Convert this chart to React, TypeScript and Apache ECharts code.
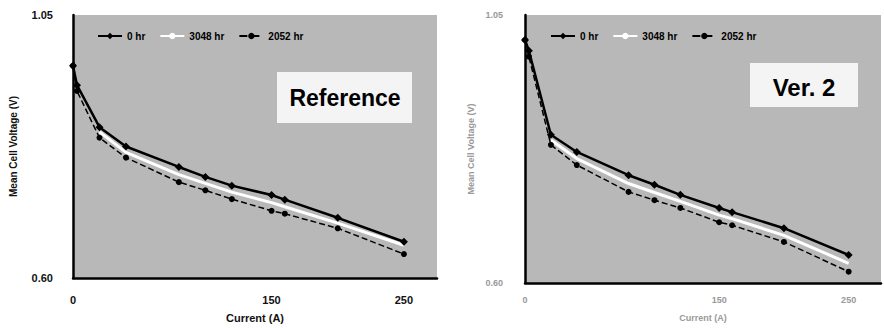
import React, { useEffect, useRef } from "react";
import * as echarts from "echarts";

// Currents (A)
const currents = [0, 3, 20, 40, 80, 100, 120, 150, 160, 200, 250];

// Left panel ("Reference")
const refHr0 = [0.963, 0.93, 0.858, 0.825, 0.79, 0.773, 0.758, 0.742, 0.734, 0.703, 0.662];
const refHr3048 = [null, null, 0.85, 0.815, 0.777, 0.762, 0.747, 0.729, 0.722, 0.694, 0.656];
const refHr2052 = [0.963, 0.92, 0.84, 0.806, 0.764, 0.75, 0.735, 0.715, 0.71, 0.685, 0.641];

// Right panel ("Ver. 2")
const v2Hr0 = [1.008, 0.99, 0.849, 0.82, 0.781, 0.765, 0.748, 0.726, 0.719, 0.692, 0.647];
const v2Hr3048 = [null, null, 0.84, 0.809, 0.767, 0.752, 0.737, 0.714, 0.708, 0.68, 0.633];
const v2Hr2052 = [1.008, 0.98, 0.832, 0.798, 0.753, 0.739, 0.726, 0.702, 0.697, 0.669, 0.619];

const seriesNames = ["0 hr", "3048 hr", "2052 hr"];
const xTickLabels = [0, 150, 250];
const yTickLabels = [0.6, 1.05];

const pairs = (vals: (number | null)[]) =>
  currents.map((c, i) => (vals[i] == null ? [c, null] : [c, vals[i]])).filter((p) => p[1] != null);

const FONT = "Liberation Sans, Arial, sans-serif";

export default function App() {
  const ref = useRef<HTMLDivElement>(null);
  useEffect(() => {
    if (!ref.current) return;
    const chart = echarts.init(ref.current, undefined, { renderer: "svg" });

    const makeX = (gi: number, faint: boolean) => ({
      type: "value",
      gridIndex: gi,
      min: 0,
      max: 275,
      interval: 25,
      name: "Current (A)",
      nameLocation: "middle",
      nameGap: faint ? 30 : 34,
      nameTextStyle: {
        fontFamily: FONT,
        fontWeight: "bold",
        fontSize: faint ? 9 : 11,
        color: faint ? "#999" : "#111",
      },
      axisLine: { show: true, lineStyle: { color: "#000", width: 2.5 } },
      axisTick: { show: false },
      splitLine: { show: false },
      axisLabel: {
        margin: faint ? 12 : 16,
        fontFamily: FONT,
        fontWeight: "bold",
        fontSize: faint ? 9 : 11,
        color: faint ? "#999" : "#111",
        formatter: (v: number) => (xTickLabels.some((t) => Math.abs(t - v) < 1e-6) ? String(v) : ""),
      },
    });

    const makeY = (gi: number, faint: boolean) => ({
      type: "value",
      gridIndex: gi,
      min: 0.6,
      max: 1.05,
      interval: 0.05,
      name: "Mean Cell Voltage (V)",
      nameLocation: "middle",
      nameGap: faint ? 50 : 55,
      nameRotate: 90,
      nameTextStyle: {
        fontFamily: FONT,
        fontWeight: "bold",
        fontSize: faint ? 9 : 10,
        color: faint ? "#999" : "#111",
      },
      axisLine: { show: true, lineStyle: { color: "#000", width: 2.5 } },
      axisTick: { show: false },
      splitLine: { show: false },
      axisLabel: {
        margin: faint ? 22 : 20,
        fontFamily: FONT,
        fontWeight: "bold",
        fontSize: faint ? 9 : 11,
        color: faint ? "#999" : "#111",
        formatter: (v: number) =>
          yTickLabels.some((t) => Math.abs(t - v) < 1e-6) ? v.toFixed(2) : "",
      },
    });

    const makeSeries = (gi: number, h0: (number | null)[], h3048: (number | null)[], h2052: (number | null)[]) => [
      {
        name: seriesNames[1],
        type: "line",
        xAxisIndex: gi,
        yAxisIndex: gi,
        data: pairs(h3048),
        symbol: "none",
        lineStyle: { color: "#ffffff", width: 3 },
        itemStyle: { color: "#ffffff" },
        z: 2,
      },
      {
        name: seriesNames[2],
        type: "line",
        xAxisIndex: gi,
        yAxisIndex: gi,
        data: pairs(h2052),
        symbol: "circle",
        symbolSize: 6,
        lineStyle: { color: "#000", width: 1.5, type: "dashed" },
        itemStyle: { color: "#000" },
        z: 3,
      },
      {
        name: seriesNames[0],
        type: "line",
        xAxisIndex: gi,
        yAxisIndex: gi,
        data: pairs(h0),
        symbol: "diamond",
        symbolSize: 8,
        lineStyle: { color: "#000", width: 2.5 },
        itemStyle: { color: "#000" },
        z: 4,
      },
    ];

    const legendCommon = {
      orient: "horizontal",
      top: 26,
      itemWidth: 24,
      itemHeight: 8,
      itemGap: 14,
      data: seriesNames,
      textStyle: { fontFamily: FONT, fontWeight: "bold", fontSize: 10, color: "#000" },
    };

    chart.setOption({
      animation: false,
      backgroundColor: "#ffffff",
      grid: [
        {
          left: 73,
          right: 447,
          top: 15,
          bottom: 38,
          show: true,
          backgroundColor: "#b8b8b8",
          borderWidth: 0,
        },
        {
          left: 525,
          right: -5,
          top: 15,
          bottom: 45,
          show: true,
          backgroundColor: "#b8b8b8",
          borderWidth: 0,
        },
      ],
      legend: [
        { ...legendCommon, left: 92 },
        { ...legendCommon, left: 545 },
      ],
      xAxis: [makeX(0, false), makeX(1, true)],
      yAxis: [makeY(0, false), makeY(1, true)],
      series: [
        ...makeSeries(0, refHr0, refHr3048, refHr2052),
        ...makeSeries(1, v2Hr0, v2Hr3048, v2Hr2052),
      ],
      graphic: [
        {
          type: "rect",
          shape: { x: 277, y: 72, width: 135, height: 51 },
          style: { fill: "#f4f4f4" },
          z: 10,
        },
        {
          type: "text",
          x: 345,
          y: 98,
          style: {
            text: "Reference",
            fontFamily: FONT,
            fontWeight: "bold",
            fontSize: 23,
            fill: "#000",
            textAlign: "center",
            textVerticalAlign: "middle",
          },
          z: 11,
        },
        {
          type: "rect",
          shape: { x: 750, y: 63, width: 108, height: 44 },
          style: { fill: "#f4f4f4" },
          z: 10,
        },
        {
          type: "text",
          x: 804,
          y: 87,
          style: {
            text: "Ver. 2",
            fontFamily: FONT,
            fontWeight: "bold",
            fontSize: 24,
            fill: "#000",
            textAlign: "center",
            textVerticalAlign: "middle",
          },
          z: 11,
        },
      ],
    });

    return () => chart.dispose();
  }, []);

  return (
    <div
      ref={ref}
      style={{ position: "fixed", left: 0, top: 0, width: 884, height: 328, background: "#fff" }}
    />
  );
}
